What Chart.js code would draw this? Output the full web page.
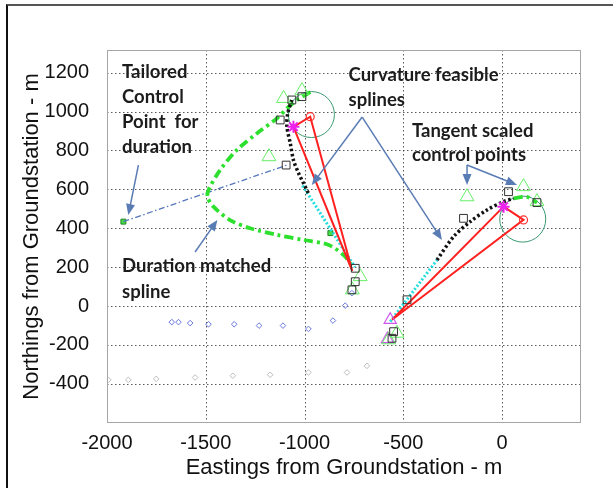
<!DOCTYPE html>
<html><head><meta charset="utf-8">
<script src="https://cdn.jsdelivr.net/npm/chart.js@4.4.1/dist/chart.umd.min.js"></script>
<style>
html,body{margin:0;padding:0;background:#fff;}
#wrap{position:relative;width:613px;height:488px;overflow:hidden;}
#frame{position:absolute;left:6px;top:4px;width:640px;height:520px;border-top:2px solid #555;border-left:2px solid #111;pointer-events:none;}
canvas{position:absolute;left:0;top:0;}
</style></head><body>
<div id="wrap"><canvas id="c" width="613" height="488"></canvas><div id="frame"></div></div>
<script>
// ---- tick labels ----
const xTickValues = [-2000, -1500, -1000, -500, 0];
const yTickValues = [-400, -200, 0, 200, 400, 600, 800, 1000, 1200];

// ---- series (Eastings, Northings in m) ----
const durationMatchedSpline = [[-970,1100],[-1030,1065],[-1080,1025],[-1140,965],[-1241,888],[-1342,803],[-1427,700],[-1486,597],[-1491,560],[-1461,511],[-1377,442],[-1276,400],[-1140,366],[-1005,340],[-880,315],[-800,260],[-752,194]];
const rightEndSegment = [[59,554],[126,561],[177,532]];
const tailoredControlLine = [[-1917,434],[-1089,725]];
const leftFeasibleSpline = [[-1064,1060],[-1085,990],[-1089,922],[-1072,837],[-1056,751],[-1030,683],[-1005,631],[-980,580]];
const leftFeasibleTail = [[-1010,620],[-745,200]];
const rightFeasibleSpline = [[-329,237],[-245,357],[-161,434],[-76,494],[8,537],[59,554]];
const rightFeasibleTail = [[-566,-80],[-329,237]];
const leftTriangle = [[-1056,922],[-971,974],[-758,180],[-1056,922]];
const rightTriangle = [[8,511],[109,443],[-557,-71],[8,511]];
const circleCentres = [[-965,985],[105,447]];
const redMarks = [[-971,974],[109,443]];
const magentaStars = [[-1056,922],[8,511]];
const triangleMarks = [[-1106,1068],[-1013,1108],[-1180,768],[-718,151],[-758,83],[-177,562],[109,614],[177,537],[-532,-140],[-574,-174]];
const magentaTriangles = [[-566,-71],[-580,-170]];
const squareMarks = [[-1064,1060],[-1013,1077],[-1123,957],[-1093,725],[-743,194],[-743,125],[-760,83],[-481,32],[33,588],[-195,451],[177,532],[-549,-132],[-557,-166]];
const greenSquares = [[-869,375],[-1917,434]];
const blueDiamonds = [[-1672,-83],[-1638,-83],[-1579,-88],[-1486,-94],[-1356,-94],[-1230,-101],[-1109,-101],[-980,-118],[-856,-75],[-794,2],[-760,66]];
const greyDiamonds = [[-1993,-380],[-1892,-380],[-1751,-375],[-1554,-368],[-1363,-359],[-1174,-354],[-980,-342],[-785,-342],[-684,-308]];

// ---- annotations (text, left x, baseline y in data units) ----
const noteTexts = ['Tailored','Control','Point  for','duration','Curvature feasible','splines','Tangent scaled','control points','Duration matched','spline'];
const noteX = [-1924,-1924,-1924,-1924,-777,-777,-456,-456,-1924,-1924];
const noteY = [1175,1044,914,785,1155,1030,871,746,177,40];
// arrows: x1,y1 -> x2,y2 (data units)
const arrowStarts = [[-1841,725],[-1554,278],[-708,972],[-708,972],[-177,725],[-177,725]];
const arrowEnds = [[-1892,468],[-1441,443],[-963,623],[-304,340],[-177,623],[76,623]];

const pts = a => a.map(p => ({x:p[0], y:p[1]}));

const lineDs = (data, color, width, dash, tension) => ({
  data: pts(data), showLine: true, borderColor: color, borderWidth: width,
  borderDash: dash, tension: tension, pointRadius: 0, fill: false, backgroundColor: color
});
const markDs = (data, style, color, radius, width, fillColor) => ({
  data: pts(data), showLine: false, pointStyle: style, pointRadius: radius,
  pointBorderColor: color, pointBorderWidth: width, pointBackgroundColor: fillColor || 'rgba(0,0,0,0)'
});

const overlay = {
  id: 'overlay',
  beforeDatasetsDraw(chart) {
    const {ctx, scales:{x, y}, chartArea:a} = chart;
    ctx.save();
    ctx.strokeStyle = 'rgba(60,60,60,0.85)'; ctx.lineWidth = 1; ctx.setLineDash([1.5, 2.5]);
    xTickValues.forEach(v => {
      const px = Math.round(x.getPixelForValue(v)) + 0.5;
      if (px <= a.left + 1 || px >= a.right - 1) return;
      ctx.beginPath(); ctx.moveTo(px, a.top); ctx.lineTo(px, a.bottom); ctx.stroke();
    });
    yTickValues.forEach(v => {
      const py = Math.round(y.getPixelForValue(v)) + 0.5;
      if (py <= a.top + 1 || py >= a.bottom - 1) return;
      ctx.beginPath(); ctx.moveTo(a.left, py); ctx.lineTo(a.right, py); ctx.stroke();
    });
    ctx.restore();
  },
  afterDatasetsDraw(chart) {
    const {ctx, scales:{x, y}, chartArea:a} = chart;
    ctx.save();
    ctx.strokeStyle = '#a6a6a6'; ctx.lineWidth = 1;
    ctx.strokeRect(a.left + 0.5, a.top + 0.5, a.right - a.left - 1, a.bottom - a.top - 1);
    // arrows
    ctx.strokeStyle = '#5a7cb4'; ctx.fillStyle = '#5a7cb4'; ctx.lineWidth = 1.5;
    for (let i = 0; i < arrowStarts.length; i++) {
      const x1 = x.getPixelForValue(arrowStarts[i][0]), y1 = y.getPixelForValue(arrowStarts[i][1]);
      const x2 = x.getPixelForValue(arrowEnds[i][0]), y2 = y.getPixelForValue(arrowEnds[i][1]);
      const ang = Math.atan2(y2 - y1, x2 - x1), L = 11, W = 4.5;
      ctx.beginPath(); ctx.moveTo(x1, y1);
      ctx.lineTo(x2 - 6*Math.cos(ang), y2 - 6*Math.sin(ang)); ctx.stroke();
      ctx.beginPath(); ctx.moveTo(x2, y2);
      ctx.lineTo(x2 - L*Math.cos(ang) + W*Math.sin(ang), y2 - L*Math.sin(ang) - W*Math.cos(ang));
      ctx.lineTo(x2 - L*Math.cos(ang) - W*Math.sin(ang), y2 - L*Math.sin(ang) + W*Math.cos(ang));
      ctx.closePath(); ctx.fill();
    }
    // texts
    ctx.fillStyle = '#1c1c1c';
    ctx.font = 'bold 18.5px Lato';
    ctx.textAlign = 'left'; ctx.textBaseline = 'alphabetic';
    for (let i = 0; i < noteTexts.length; i++) {
      ctx.fillText(noteTexts[i], x.getPixelForValue(noteX[i]), y.getPixelForValue(noteY[i]));
    }
    ctx.restore();
  }
};

const tickFont = {family: 'Liberation Sans', size: 20};
new Chart(document.getElementById('c'), {
  type: 'scatter',
  data: { datasets: [
    markDs(magentaStars, 'star', '#ee22ee', 6, 2),
    markDs(redMarks, 'circle', '#ff3030', 4, 1.2),
    markDs(squareMarks, 'rect', '#333333', 5.5, 1),
    markDs(triangleMarks, 'triangle', '#66ee66', 8, 1),
    markDs(magentaTriangles, 'triangle', '#cc55ee', 7, 1.2),
    lineDs(leftTriangle, '#ff2020', 2, [], 0),
    lineDs(rightTriangle, '#ff2020', 2, [], 0),
    lineDs(leftFeasibleSpline, '#111111', 3.5, [2.5, 2.5], 0.3),
    lineDs(rightFeasibleSpline, '#111111', 3.5, [2.5, 2.5], 0.3),
    lineDs(leftFeasibleTail, '#22dddd', 3, [2, 2], 0),
    lineDs(rightFeasibleTail, '#22dddd', 3, [2, 2], 0),
    lineDs(durationMatchedSpline, '#2ee02e', 3.8, [9, 4, 3, 4], 0.3),
    lineDs(rightEndSegment, '#2ee02e', 3.8, [9, 4, 3, 4], 0.3),
    lineDs(tailoredControlLine, '#5577bb', 1.3, [6, 2.5, 1.5, 2.5], 0),
    markDs(greenSquares, 'rect', '#228822', 3.5, 1, '#44dd44'),
    markDs(circleCentres, 'circle', '#3a9a72', 23, 1),
    markDs(blueDiamonds, 'rectRot', '#6677dd', 2.8, 1),
    markDs(greyDiamonds, 'rectRot', '#bdbdbd', 2.8, 1)
  ]},
  options: {
    responsive: false, animation: false, devicePixelRatio: 1,
    layout: {padding: {left: 0, top: 50, right: 32, bottom: 0}},
    plugins: {legend: {display: false}, tooltip: {enabled: false}},
    scales: {
      x: {
        type: 'linear', min: -2000, max: 400,
        afterBuildTicks: s => { s.ticks = xTickValues.map(v => ({value: v})); },
        afterFit: s => { s.height = 65; },
        grid: {display: false}, border: {display: false},
        ticks: {padding: 0, color: '#111', font: tickFont, callback: v => String(v)},
        title: {display: true, text: 'Eastings from Groundstation - m', color: '#111',
                font: {family: 'Liberation Sans', size: 22}, padding: {top: 0, bottom: 7}}
      },
      y: {
        type: 'linear', min: -602, max: 1317,
        afterBuildTicks: s => { s.ticks = yTickValues.map(v => ({value: v})); },
        afterFit: s => { s.width = 107; },
        grid: {display: false}, border: {display: false},
        ticks: {padding: 10, color: '#111', font: tickFont, callback: v => String(v)},
        title: {display: true, text: 'Northings from Groundstation - m', color: '#111',
                font: {family: 'Liberation Sans', size: 22}, padding: {top: 19, bottom: 0}}
      }
    }
  },
  plugins: [overlay]
});
</script>
</body></html>
